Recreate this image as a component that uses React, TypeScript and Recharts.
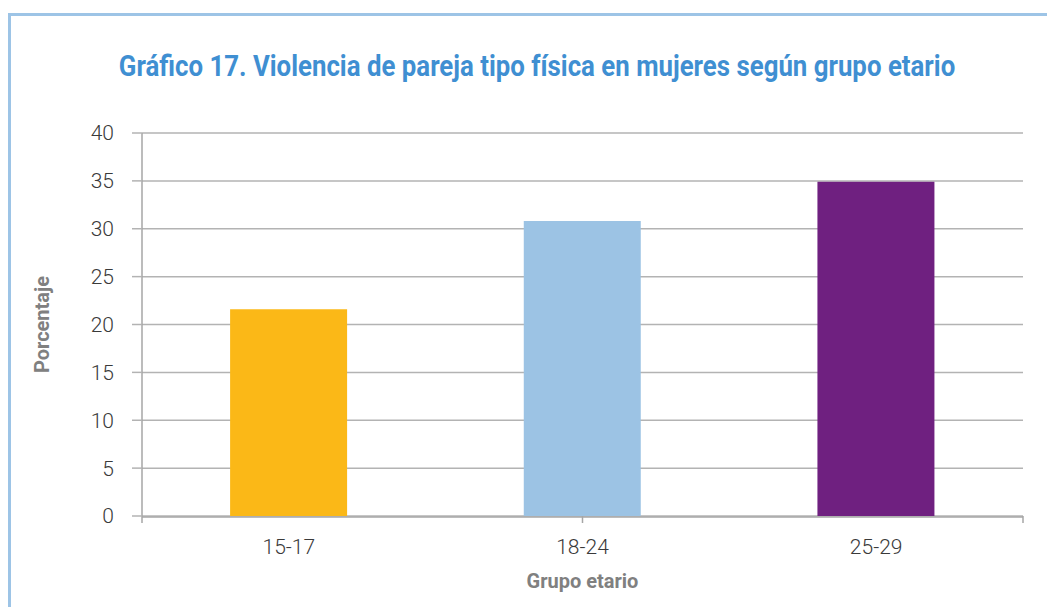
import React from "react";
import {
  BarChart,
  Bar,
  Cell,
  XAxis,
  YAxis,
  CartesianGrid,
  Label,
} from "recharts";

// Violencia de pareja tipo física, por grupo etario (%)
const grupos = ["15-17", "18-24", "25-29"];
const porcentajes = [21.6, 30.8, 34.9];
const colores = ["#fbb817", "#9cc3e4", "#6f2080"];
const yTicks = [0, 5, 10, 15, 20, 25, 30, 35, 40];
const bordes = [0, 1, 2, 3];

const data = grupos.map((g, i) => ({ grupo: g, valor: porcentajes[i] }));

const titulo = "Gráfico 17. Violencia de pareja tipo física en mujeres según grupo etario";

const tickFont = { fontFamily: "Roboto", fontWeight: 300, fontSize: 21, fill: "#3a3a3a" };

const YLabel = (props: any) => {
  const vb = props.viewBox;
  const cx = vb.x - 40;
  const cy = vb.y + vb.height / 2;
  return (
    <text
      x={cx}
      y={cy}
      transform={`rotate(-90 ${cx} ${cy})`}
      textAnchor="middle"
      dominantBaseline="central"
      fontFamily="Roboto"
      fontWeight={700}
      fontSize={20}
      fill="#808080"
    >
      Porcentaje
    </text>
  );
};

export default function App() {
  return (
    <div style={{ position: "relative", width: 1047, height: 599, overflow: "hidden" }}>
      <div
        style={{
          position: "absolute",
          left: 0,
          top: 5,
          width: 1100,
          height: 700,
          borderLeft: "3px solid #9dc4e6",
          borderTop: "3px solid #9dc4e6",
        }}
      />
      <div
        style={{
          position: "absolute",
          left: 0,
          top: 40,
          width: 1058,
          textAlign: "center",
          fontFamily: "Roboto",
          fontWeight: 700,
          fontSize: 29,
          color: "#3f8fd2",
          whiteSpace: "nowrap",
          transform: "scaleX(0.89)",
          transformOrigin: "529px 0",
          lineHeight: "36px",
        }}
      >
        {titulo}
      </div>
      <div style={{ position: "absolute", left: 0, top: 0 }}>
        <BarChart
          width={1047}
          height={599}
          data={data}
          margin={{ top: 125, right: 32, left: 74, bottom: 12 }}
          barCategoryGap="30%"
        >
          <CartesianGrid vertical={false} xAxisId="cat" stroke="#b3b3b3" strokeWidth={1.5} />
          <XAxis
            xAxisId="a"
            type="number"
            domain={[0, 3]}
            ticks={bordes}
            height={1}
            tickFormatter={() => ""}
            tickSize={7}
            axisLine={false}
            tickLine={{ stroke: "#a6a6a6", strokeWidth: 1.5 }}
          />
          <XAxis
            xAxisId="cat"
            dataKey="grupo"
            height={78}
            tickLine={false}
            tickSize={0}
            tickMargin={22}
            axisLine={{ stroke: "#a6a6a6", strokeWidth: 1.5 }}
            tick={tickFont}
          >
            <Label
              value="Grupo etario"
              position="insideBottom"
              offset={7}
              fontFamily="Roboto"
              fontWeight={700}
              fontSize={20}
              fill="#808080"
            />
          </XAxis>
          <YAxis
            domain={[0, 40]}
            ticks={yTicks}
            width={60}
            tickSize={10}
            tickMargin={18}
            axisLine={{ stroke: "#a6a6a6", strokeWidth: 1.5 }}
            tickLine={{ stroke: "#b3b3b3", strokeWidth: 1.5 }}
            tick={tickFont}
          >
            <Label content={YLabel} />
          </YAxis>
          <Bar dataKey="valor" xAxisId="cat" isAnimationActive={false}>
            {data.map((d, i) => (
              <Cell key={d.grupo} fill={colores[i]} />
            ))}
          </Bar>
        </BarChart>
      </div>
    </div>
  );
}
